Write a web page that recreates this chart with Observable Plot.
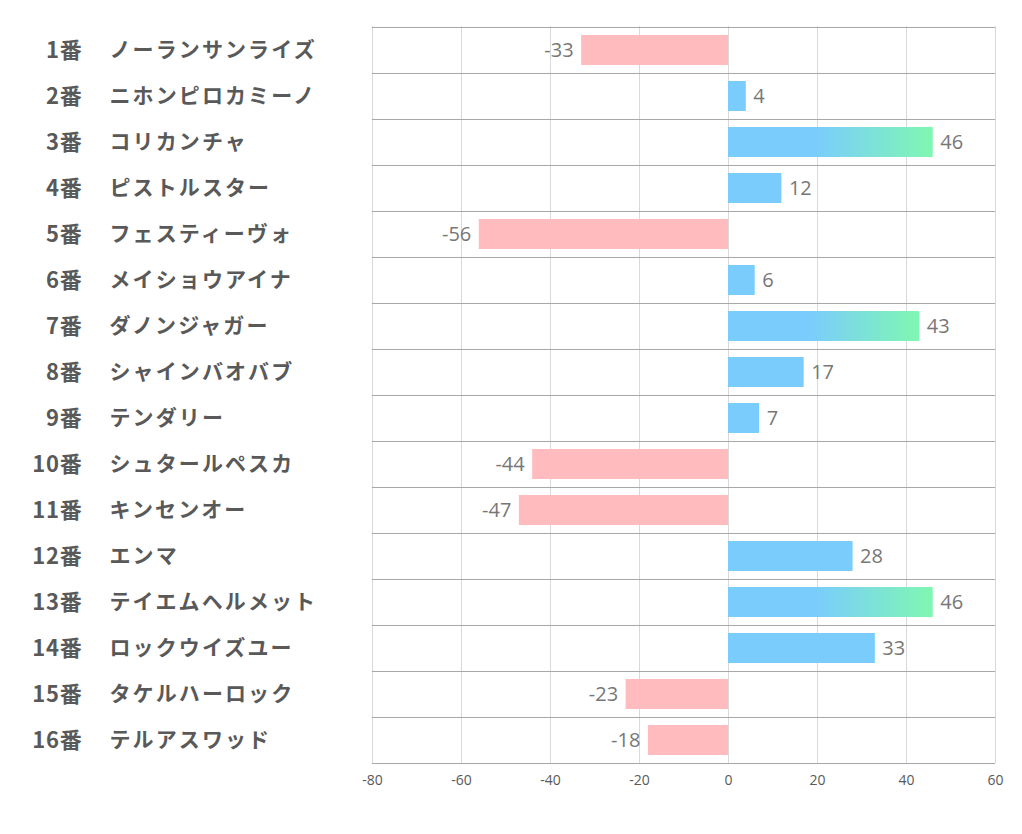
<!DOCTYPE html>
<html>
<head>
<meta charset="utf-8">
<script src="https://cdn.jsdelivr.net/npm/d3@7"></script>
<script src="https://cdn.jsdelivr.net/npm/@observablehq/plot@0.6"></script>
<style>
  html, body { margin: 0; padding: 0; background: #fff; }
  .lbl text { letter-spacing: 2.1px; }
  .num text { letter-spacing: 0.8px; }
</style>
</head>
<body>
<div id="chart"></div>
<script>
const numbers = ["1番","2番","3番","4番","5番","6番","7番","8番","9番","10番","11番","12番","13番","14番","15番","16番"];
const names = ["ノーランサンライズ","ニホンピロカミーノ","コリカンチャ","ピストルスター","フェスティーヴォ","メイショウアイナ","ダノンジャガー","シャインバオバブ","テンダリー","シュタールペスカ","キンセンオー","エンマ","テイエムヘルメット","ロックウイズユー","タケルハーロック","テルアスワッド"];
const values = [-33, 4, 46, 12, -56, 6, 43, 17, 7, -44, -47, 28, 46, 33, -23, -18];
const xTicks = [-80, -60, -40, -20, 0, 20, 40, 60];

const data = names.map((name, i) => ({num: numbers[i], name, value: values[i]}));

const W = 1022, H = 834;
const mTop = 26, mBottom = 71, mLeft = 372, mRight = 27;
const step = (H - mTop - mBottom) / names.length;

const negRows = data.filter(d => d.value < 0);
const posRows = data.filter(d => d.value >= 0 && d.value < 40);
const hiRows = data.filter(d => d.value >= 40);

const chart = Plot.plot({
  width: W,
  height: H,
  marginTop: mTop,
  marginBottom: mBottom,
  marginLeft: mLeft,
  marginRight: mRight,
  style: {fontFamily: "'Open Sans', sans-serif", background: "#fff"},
  x: {domain: [-80, 60], axis: null},
  y: {domain: names, paddingInner: 0.35, paddingOuter: 0.175, axis: null},
  marks: [
    Plot.ruleX(xTicks, {stroke: "#d9d9d9", strokeWidth: 1}),
    Plot.ruleY(names, {stroke: "#a6a6a6", strokeWidth: 1, dy: -step / 2}),
    Plot.ruleY([names[names.length - 1]], {stroke: "#a6a6a6", strokeWidth: 1, dy: step / 2}),
    Plot.barX(negRows, {x1: 0, x2: "value", y: "name", fill: "#ffbbbe"}),
    Plot.barX(posRows, {x1: 0, x2: "value", y: "name", fill: "#7accfd"}),
    Plot.barX(hiRows, {x1: 0, x2: "value", y: "name", fill: "url(#hiGrad)"}),
    Plot.text(negRows, {x: "value", y: "name", text: d => String(d.value), textAnchor: "end", dx: -8, fill: "#777777", fontSize: 20}),
    Plot.text(posRows.concat(hiRows), {x: "value", y: "name", text: d => String(d.value), textAnchor: "start", dx: 7, fill: "#777777", fontSize: 20}),
    Plot.text(data, {y: "name", text: "num", frameAnchor: "left", dx: -290, textAnchor: "end", fill: "#595959", fontSize: 22, fontWeight: "bold", fontFamily: "'Noto Sans CJK JP', sans-serif", className: "num"}),
    Plot.text(data, {y: "name", text: "name", frameAnchor: "left", dx: -263, textAnchor: "start", fill: "#595959", fontSize: 21, fontWeight: "bold", fontFamily: "'Noto Sans CJK JP', sans-serif", className: "lbl"}),
    Plot.text(xTicks, {x: d => d, frameAnchor: "bottom", dy: 21, text: d => String(d), fill: "#595959", fontSize: 14})
  ]
});

const svgEl = chart.tagName.toLowerCase() === "svg" ? chart : chart.querySelector("svg");
const defs = d3.select(svgEl).insert("defs", ":first-child");
const grad = defs.append("linearGradient").attr("id", "hiGrad").attr("x1", 0).attr("x2", 1).attr("y1", 0).attr("y2", 0);
grad.append("stop").attr("offset", 0.42).attr("stop-color", "#7accfd");
grad.append("stop").attr("offset", 1).attr("stop-color", "#7ff7b2");

document.getElementById("chart").appendChild(chart);
</script>
</body>
</html>
